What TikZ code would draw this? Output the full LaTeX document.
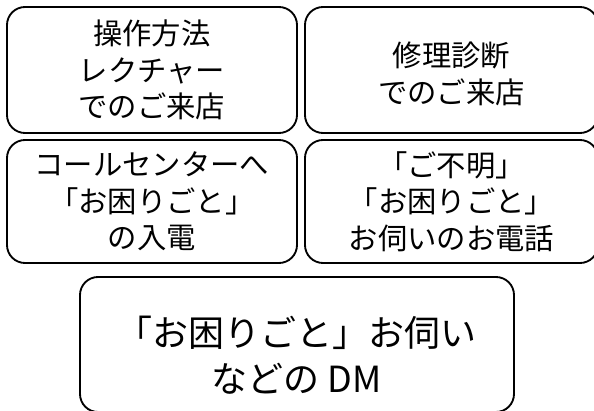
\documentclass[tikz,border=0pt]{standalone}
\usepackage{fontspec}
\setmainfont{Noto Sans CJK JP}

\begin{document}
\begin{tikzpicture}[x=0.75pt,y=0.75pt,yscale=-1,xscale=1,
    card/.style={draw, line width=1.4pt, rounded corners=13.5pt, align=center, inner sep=0pt,
      font=\fontsize{22}{27.5}\selectfont},
    bigcard/.style={card, font=\fontsize{27}{35}\selectfont}]
    \useasboundingbox (0,0) rectangle (594,411);

    %Rounded Rect [id:lecture]
    \node (lecture) [card, minimum width=217.5pt, minimum height=94.5pt] at (152,70) {操作方法\\レクチャー\\でのご来店};
    %Rounded Rect [id:repair]
    \node (repair) [card, minimum width=219.75pt, minimum height=94.5pt] at (451.5,70) {\rule{0pt}{24.7pt}修理診断\\でのご来店};
    %Rounded Rect [id:callin]
    \node (callin) [card, minimum width=217.5pt, minimum height=92.25pt] at (152,201.5) {コールセンターへ\\「お困りごと」\\の入電};
    %Rounded Rect [id:phone]
    \node (phone) [card, minimum width=219.75pt, minimum height=92.25pt] at (451.5,201.5) {「ご不明」\\「お困りごと」\\お伺いのお電話};
    %Rounded Rect [id:dm]
    \node (dm) [bigcard, minimum width=325.5pt, minimum height=101.25pt] at (297,344.5) {\rule{0pt}{38.8pt}「お困りごと」お伺い\\などの DM};
\end{tikzpicture}
\end{document}
